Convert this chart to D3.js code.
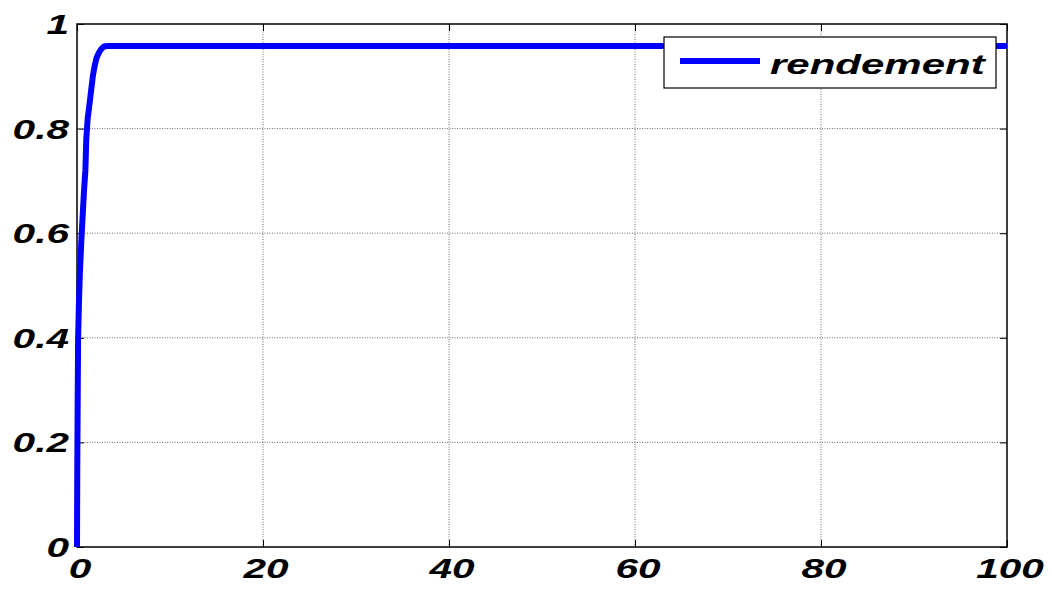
<!DOCTYPE html>
<html>
<head>
<meta charset="utf-8">
<script src="https://cdn.jsdelivr.net/npm/d3@7"></script>
<style>
  body { margin: 0; background: #fff; }
  svg { display: block; }
</style>
</head>
<body>
<svg id="chart" width="1052" height="590"></svg>
<script>
// rendement curve
var timeValues = [0, 0.03, 0.08, 0.12, 0.2, 0.3, 0.45, 0.6, 0.75, 0.9, 1.0, 1.15, 1.3, 1.5, 1.7, 1.9, 2.1, 2.35, 2.6, 2.9, 3.3, 100];
var rendementValues = [0, 0.15, 0.3, 0.4, 0.46, 0.52, 0.58, 0.63, 0.68, 0.72, 0.78, 0.82, 0.84, 0.87, 0.9, 0.92, 0.935, 0.945, 0.952, 0.957, 0.958, 0.958];
var xTicks = [0, 20, 40, 60, 80, 100];
var yTicks = [0, 0.2, 0.4, 0.6, 0.8, 1];
var seriesName = "rendement";

var svg = d3.select("#chart"),
    margin = {top: 24, right: 45, bottom: 43, left: 77},
    width = 1052 - margin.left - margin.right,
    height = 590 - margin.top - margin.bottom,
    stretch = 1.45;

var g = svg.append("g")
  .attr("transform", `translate(${margin.left},${margin.top})`);

var x = d3.scaleLinear().domain([0, 100]).range([0, width]);
var y = d3.scaleLinear().domain([0, 1]).range([height, 0]);

// grid
g.selectAll(".vgrid").data(xTicks.slice(1, -1)).enter().append("line")
  .attr("x1", d => x(d)).attr("x2", d => x(d))
  .attr("y1", 0).attr("y2", height)
  .attr("stroke", "#444").attr("stroke-width", 0.8)
  .attr("stroke-dasharray", "1,1.5");
g.selectAll(".hgrid").data(yTicks.slice(1, -1)).enter().append("line")
  .attr("y1", d => y(d)).attr("y2", d => y(d))
  .attr("x1", 0).attr("x2", width)
  .attr("stroke", "#444").attr("stroke-width", 0.8)
  .attr("stroke-dasharray", "1,1.5");

// inside ticks on all sides
var tk = 7;
g.append("g").attr("transform", `translate(0,${height})`)
  .call(d3.axisTop(x).tickValues(xTicks).tickSize(tk).tickFormat(""));
g.append("g")
  .call(d3.axisBottom(x).tickValues(xTicks).tickSize(tk).tickFormat(""));
g.append("g")
  .call(d3.axisRight(y).tickValues(yTicks).tickSize(tk).tickFormat(""));
g.append("g").attr("transform", `translate(${width},0)`)
  .call(d3.axisLeft(y).tickValues(yTicks).tickSize(tk).tickFormat(""));
g.selectAll(".domain").remove();
g.selectAll(".tick line").attr("stroke", "#000").attr("stroke-width", 1);

// box
g.append("rect")
  .attr("width", width).attr("height", height)
  .attr("fill", "none").attr("stroke", "#000").attr("stroke-width", 1.5);

// line
var line = d3.line()
  .x((d, i) => x(timeValues[i]))
  .y(d => y(d));

g.append("path")
  .datum(rendementValues)
  .attr("d", line)
  .attr("fill", "none")
  .attr("stroke", "#0000ff")
  .attr("stroke-width", 6)
  .attr("stroke-linejoin", "round");

// tick labels (bold italic, stretched like the original)
var font = "'Liberation Sans', Arial, sans-serif";
xTicks.forEach(function(d) {
  svg.append("text")
    .attr("transform", `translate(${margin.left + x(d) + 3},${margin.top + height + 31}) scale(${stretch},1)`)
    .attr("text-anchor", "middle")
    .attr("font-family", font).attr("font-weight", "bold").attr("font-style", "italic")
    .attr("font-size", 28)
    .text(d3.format("d")(d));
});
yTicks.forEach(function(d) {
  svg.append("text")
    .attr("transform", `translate(${margin.left - 8},${margin.top + y(d) + 10}) scale(${stretch},1)`)
    .attr("text-anchor", "end")
    .attr("font-family", font).attr("font-weight", "bold").attr("font-style", "italic")
    .attr("font-size", 28)
    .text(d === 0 || d === 1 ? d : d3.format(".1f")(d));
});

// legend
var legend = svg.append("g").attr("transform", "translate(664,37)");
legend.append("rect")
  .attr("width", 332).attr("height", 51)
  .attr("fill", "#fff").attr("stroke", "#000").attr("stroke-width", 1.2);
legend.append("line")
  .attr("x1", 16).attr("x2", 96).attr("y1", 24).attr("y2", 24)
  .attr("stroke", "#0000ff").attr("stroke-width", 6);
legend.append("text")
  .attr("transform", `translate(106,37) scale(1.5,1)`)
  .attr("font-family", font).attr("font-weight", "bold").attr("font-style", "italic")
  .attr("font-size", 28)
  .text(seriesName);
</script>
</body>
</html>
